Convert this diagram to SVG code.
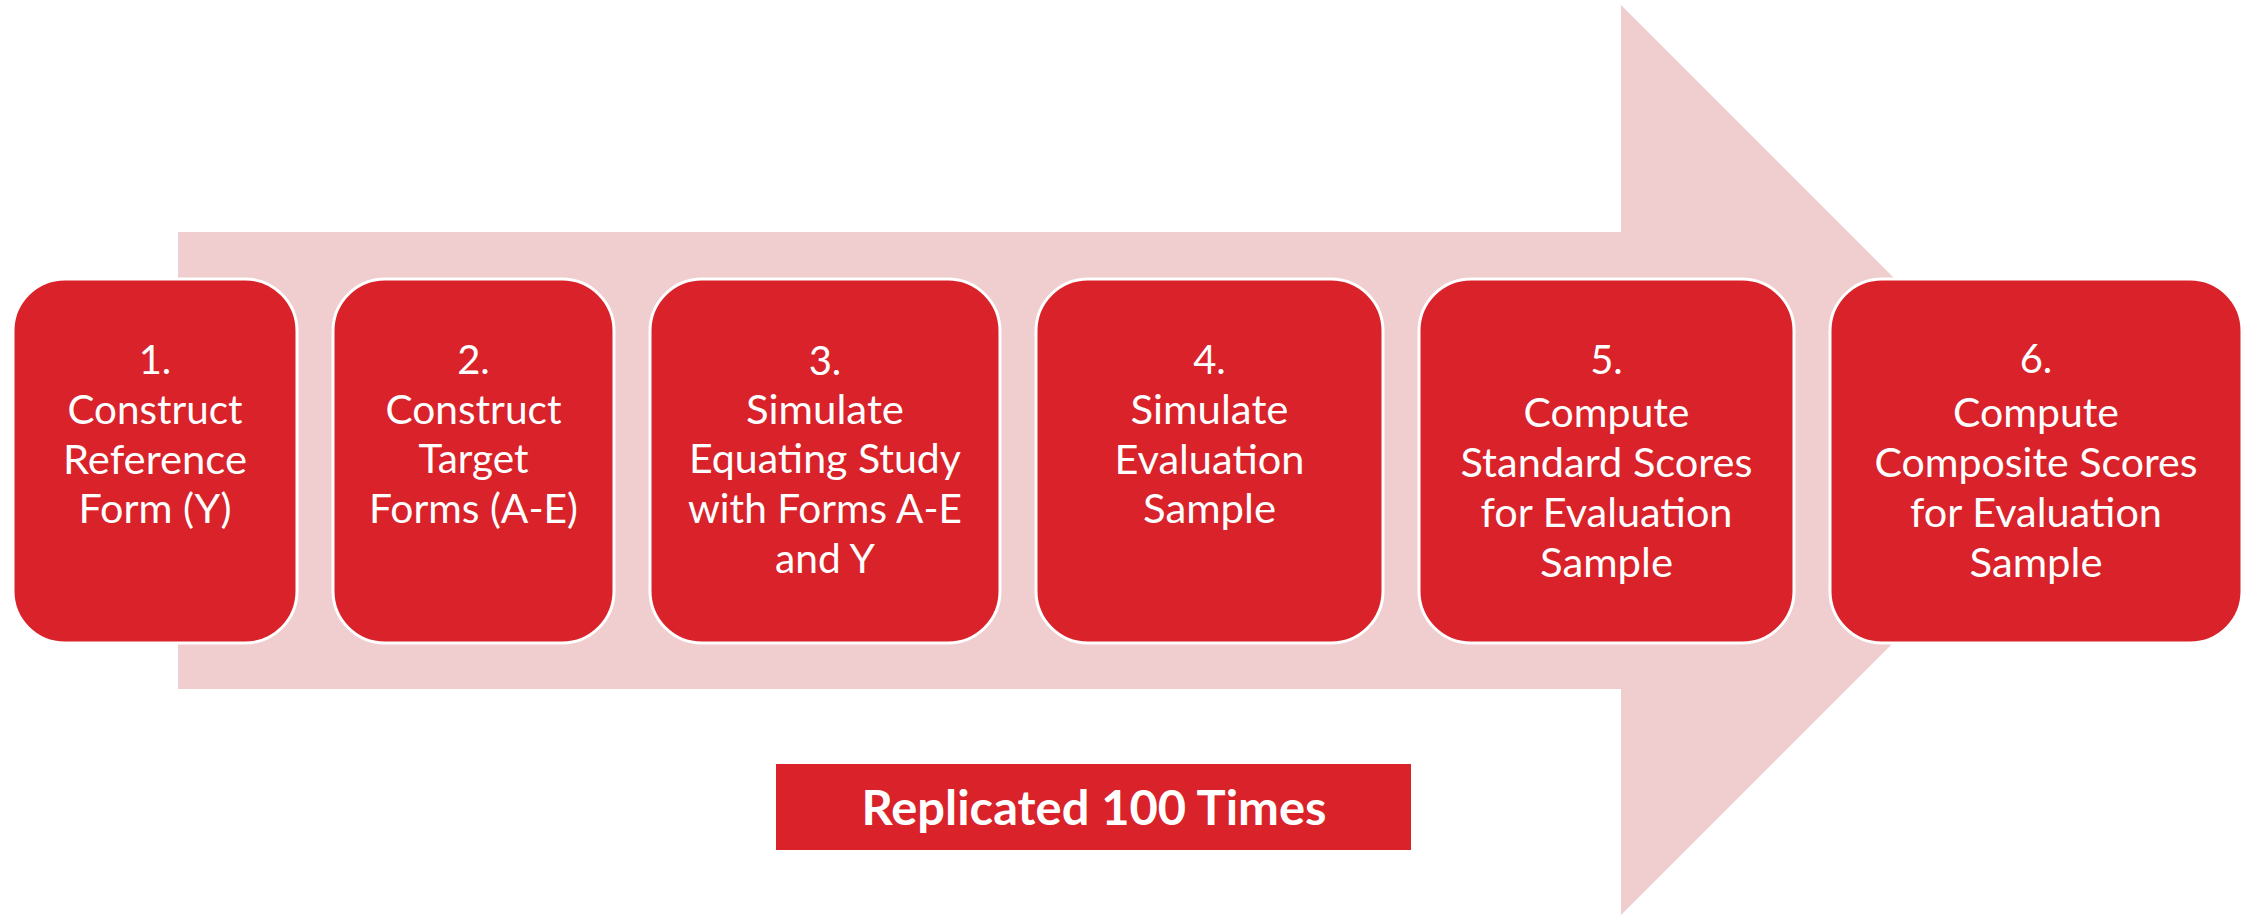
<svg xmlns="http://www.w3.org/2000/svg" width="2249" height="915" viewBox="0 0 2249 915">
  <style>
    .step { fill: #D9222A; stroke: #FFFFFF; stroke-width: 3; }
    .label { fill: #FFFFFF; font-family: Lato, "Open Sans", "Liberation Sans", sans-serif; font-size: 40px; text-anchor: middle; }
    .banner { fill: #D9222A; }
    .banner-text { fill: #FFFFFF; font-family: Lato, "Open Sans", "Liberation Sans", sans-serif; font-weight: bold; font-size: 47px; text-anchor: middle; }
  </style>
  <rect width="2249" height="915" fill="#FFFFFF"/>

  <!-- Background process arrow -->
  <g id="connectors">
    <polygon points="178,232 1621,232 1621,5 2076,460 1621,915 1621,689 178,689" fill="#F0CDCE"/>
  </g>

  <g id="step1">
    <rect class="step" x="13" y="279" width="284" height="364" rx="52" ry="52"/>
    <text class="label" x="155" y="374">1.</text>
    <text class="label" x="155" y="424" textLength="175" lengthAdjust="spacingAndGlyphs">Construct</text>
    <text class="label" x="155" y="474" textLength="184" lengthAdjust="spacingAndGlyphs">Reference</text>
    <text class="label" x="155" y="523" textLength="153" lengthAdjust="spacingAndGlyphs">Form (Y)</text>
  </g>

  <g id="step2">
    <rect class="step" x="333" y="279" width="281" height="364" rx="52" ry="52"/>
    <text class="label" x="473.5" y="374">2.</text>
    <text class="label" x="473.5" y="424" textLength="176" lengthAdjust="spacingAndGlyphs">Construct</text>
    <text class="label" x="473.5" y="473" textLength="110" lengthAdjust="spacingAndGlyphs">Target</text>
    <text class="label" x="473.5" y="523" textLength="209" lengthAdjust="spacingAndGlyphs">Forms (A-E)</text>
  </g>

  <g id="step3">
    <rect class="step" x="650" y="279" width="350" height="364" rx="52" ry="52"/>
    <text class="label" x="825" y="375">3.</text>
    <text class="label" x="825" y="424" textLength="158" lengthAdjust="spacingAndGlyphs">Simulate</text>
    <text class="label" x="825" y="473" textLength="272" lengthAdjust="spacingAndGlyphs">Equating Study</text>
    <text class="label" x="825" y="523" textLength="274" lengthAdjust="spacingAndGlyphs">with Forms A-E</text>
    <text class="label" x="825" y="573" textLength="100" lengthAdjust="spacingAndGlyphs">and Y</text>
  </g>

  <g id="step4">
    <rect class="step" x="1036" y="279" width="347" height="364" rx="52" ry="52"/>
    <text class="label" x="1209.5" y="374">4.</text>
    <text class="label" x="1209.5" y="424" textLength="158" lengthAdjust="spacingAndGlyphs">Simulate</text>
    <text class="label" x="1209.5" y="474" textLength="190" lengthAdjust="spacingAndGlyphs">Evaluation</text>
    <text class="label" x="1209.5" y="523" textLength="133" lengthAdjust="spacingAndGlyphs">Sample</text>
  </g>

  <g id="step5">
    <rect class="step" x="1419" y="279" width="375" height="364" rx="52" ry="52"/>
    <text class="label" x="1606.5" y="374">5.</text>
    <text class="label" x="1606.5" y="427" textLength="166" lengthAdjust="spacingAndGlyphs">Compute</text>
    <text class="label" x="1606.5" y="477" textLength="292" lengthAdjust="spacingAndGlyphs">Standard Scores</text>
    <text class="label" x="1606.5" y="527" textLength="252" lengthAdjust="spacingAndGlyphs">for Evaluation</text>
    <text class="label" x="1606.5" y="577" textLength="133" lengthAdjust="spacingAndGlyphs">Sample</text>
  </g>

  <g id="step6">
    <rect class="step" x="1830" y="279" width="412" height="364" rx="52" ry="52"/>
    <text class="label" x="2036" y="373">6.</text>
    <text class="label" x="2036" y="427" textLength="166" lengthAdjust="spacingAndGlyphs">Compute</text>
    <text class="label" x="2036" y="477" textLength="323" lengthAdjust="spacingAndGlyphs">Composite Scores</text>
    <text class="label" x="2036" y="527" textLength="252" lengthAdjust="spacingAndGlyphs">for Evaluation</text>
    <text class="label" x="2036" y="577" textLength="133" lengthAdjust="spacingAndGlyphs">Sample</text>
  </g>

  <g id="replicated">
    <rect class="banner" x="776" y="764" width="635" height="86"/>
    <text class="banner-text" x="1094" y="825" textLength="465" lengthAdjust="spacingAndGlyphs">Replicated 100 Times</text>
  </g>
</svg>
